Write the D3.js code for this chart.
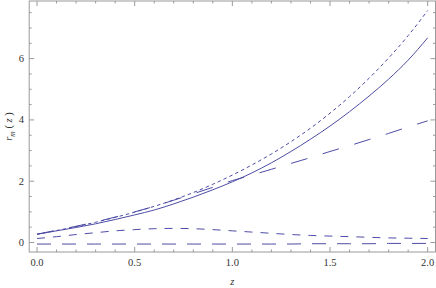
<!DOCTYPE html>
<html><head><meta charset="utf-8">
<script src="https://cdn.jsdelivr.net/npm/d3@7"></script>
<style>body{margin:0;background:#fff}svg{display:block}</style>
</head><body><div id="c"></div>
<script>
const zValues = [0,0.1,0.2,0.3,0.4,0.5,0.6,0.7,0.8,0.9,1.0,1.1,1.2,1.3,1.4,1.5,1.6,1.7,1.8,1.9,2.0];
const solidSeries = [0.27,0.38,0.49,0.61,0.75,0.90,1.06,1.26,1.48,1.72,1.98,2.27,2.60,2.97,3.37,3.80,4.27,4.78,5.33,5.95,6.68];
const shortDashSeries = [0.27,0.39,0.52,0.66,0.82,0.99,1.18,1.39,1.63,1.90,2.20,2.53,2.89,3.29,3.73,4.22,4.76,5.36,6.02,6.75,7.57];
const longDashSeries = [0.27,0.40,0.53,0.67,0.83,1.00,1.18,1.38,1.59,1.80,2.02,2.20,2.39,2.58,2.77,2.97,3.16,3.36,3.56,3.77,3.97];
const midDashSeries = [0.13,0.19,0.26,0.32,0.38,0.42,0.45,0.46,0.45,0.42,0.38,0.34,0.30,0.26,0.23,0.21,0.19,0.17,0.15,0.14,0.13];
const bottomDashSeries = [-0.05,-0.05,-0.05,-0.05,-0.05,-0.05,-0.05,-0.05,-0.05,-0.05,-0.05,-0.05,-0.05,-0.05,-0.04,-0.04,-0.04,-0.04,-0.03,-0.03,-0.03];
const xTickLabels = ["0.0","0.5","1.0","1.5","2.0"];
const yTickLabels = ["0","2","4","6"];

const W=436,H=288;
const svg=d3.select("#c").append("svg").attr("width",W).attr("height",H);
const x=d3.scaleLinear().domain([-0.04,2.04]).range([29.2,435.5]);
const y=d3.scaleLinear().domain([-0.31,7.88]).range([252,1]);
const frameCol="#9a9a9a", textCol="#333";
const lineCol="#4d4da6";

const series=[
 {v:solidSeries,dash:null},
 {v:shortDashSeries,dash:"3.5,3"},
 {v:longDashSeries,dash:"17,16"},
 {v:midDashSeries,dash:"8,8"},
 {v:bottomDashSeries,dash:"14,11"}
];
const line=d3.line().x((d,i)=>x(zValues[i])).y(d=>y(d)).curve(d3.curveMonotoneX);
const g=svg.append("g");
const clip=svg.append("clipPath").attr("id","cp").append("rect")
 .attr("x",x.range()[0]).attr("y",y.range()[1]).attr("width",x.range()[1]-x.range()[0]).attr("height",y.range()[0]-y.range()[1]);
series.forEach(s=>{
 g.append("path").attr("d",line(s.v)).attr("fill","none").attr("stroke",lineCol)
  .attr("stroke-width",1).attr("stroke-dasharray",s.dash).attr("clip-path","url(#cp)");
});

// frame
const [x0,x1]=x.range(), [y1,y0]=[y.range()[0],y.range()[1]];
svg.append("rect").attr("x",x0).attr("y",y0).attr("width",x1-x0).attr("height",y1-y0)
 .attr("fill","none").attr("stroke",frameCol).attr("stroke-width",1);

// ticks
const xMajor=xTickLabels.map(Number);
const xMinor=d3.range(0,21).map(i=>i/10).filter(v=>!xMajor.some(m=>Math.abs(m-v)<1e-9));
const yMajor=yTickLabels.map(Number);
const yMinor=d3.range(0,16).map(i=>i/2).filter(v=>!yMajor.includes(v) && v<=7.8);
const tk=svg.append("g").attr("stroke",frameCol).attr("stroke-width",1);
xMajor.forEach(v=>{
 tk.append("line").attr("x1",x(v)).attr("x2",x(v)).attr("y1",y1).attr("y2",y1-5);
 tk.append("line").attr("x1",x(v)).attr("x2",x(v)).attr("y1",y0).attr("y2",y0+5);
});
xMinor.forEach(v=>{
 tk.append("line").attr("x1",x(v)).attr("x2",x(v)).attr("y1",y1).attr("y2",y1-2.5);
 tk.append("line").attr("x1",x(v)).attr("x2",x(v)).attr("y1",y0).attr("y2",y0+2.5);
});
yMajor.forEach(v=>{
 tk.append("line").attr("x1",x0).attr("x2",x0+5).attr("y1",y(v)).attr("y2",y(v));
 tk.append("line").attr("x1",x1).attr("x2",x1-5).attr("y1",y(v)).attr("y2",y(v));
});
yMinor.forEach(v=>{
 tk.append("line").attr("x1",x0).attr("x2",x0+2.5).attr("y1",y(v)).attr("y2",y(v));
 tk.append("line").attr("x1",x1).attr("x2",x1-2.5).attr("y1",y(v)).attr("y2",y(v));
});

const font="'Liberation Serif','DejaVu Serif',serif";
xTickLabels.forEach(t=>{
 svg.append("text").attr("x",x(+t)).attr("y",265.5).attr("text-anchor","middle")
  .attr("font-family",font).attr("font-size",10.5).attr("fill",textCol).text(t);
});
yTickLabels.forEach(t=>{
 svg.append("text").attr("x",24).attr("y",y(+t)+3.5).attr("text-anchor","end")
  .attr("font-family",font).attr("font-size",10.5).attr("fill",textCol).text(t);
});
svg.append("text").attr("x",(x(0)+x(2))/2).attr("y",285).attr("text-anchor","middle")
 .attr("font-family",font).attr("font-size",10.5).attr("font-style","italic").attr("fill",textCol).text("z");
const yl=svg.append("text").attr("transform",`translate(12,${(y1+y0)/2}) rotate(-90)`)
 .attr("text-anchor","middle").attr("font-family",font).attr("font-size",10.5).attr("fill",textCol);
yl.append("tspan").attr("font-style","italic").text("r");
yl.append("tspan").attr("font-style","italic").attr("font-size",7.5).attr("dy",2.5).text("m");
yl.append("tspan").attr("dy",-2.5).text(" ( ");
yl.append("tspan").attr("font-style","italic").text("z");
yl.append("tspan").text(" )");
</script></body></html>
